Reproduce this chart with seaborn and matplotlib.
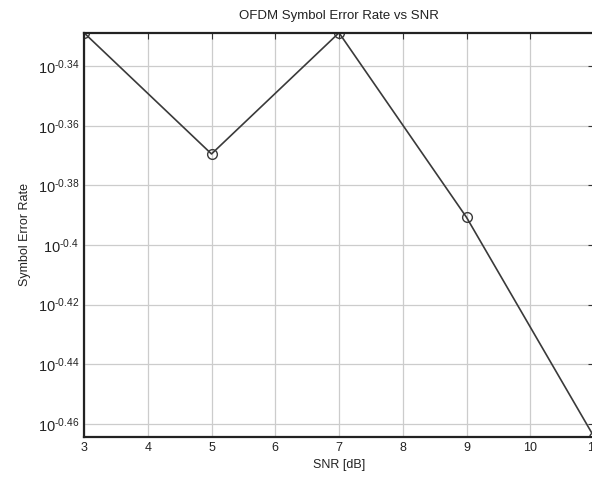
import matplotlib
matplotlib.use("Agg")
import matplotlib.pyplot as plt
import seaborn as sns
import numpy as np
import pandas as pd

# data
snr_db = [3, 5, 7, 9, 11]
ser = [0.4690, 0.4271, 0.4690, 0.4067, 0.3433]
ytick_exp = [-0.46, -0.44, -0.42, -0.40, -0.38, -0.36, -0.34]
ytick_labels = [r'$10^{\text{-0.46}}$', r'$10^{\text{-0.44}}$', r'$10^{\text{-0.42}}$',
                r'$10^{\text{-0.4}}$', r'$10^{\text{-0.38}}$', r'$10^{\text{-0.36}}$',
                r'$10^{\text{-0.34}}$']
xticks = [3, 4, 5, 6, 7, 8, 9, 10, 11]

sns.set_style("whitegrid")
plt.rcParams['font.family'] = ['Liberation Sans', 'DejaVu Sans']
plt.rcParams['mathtext.fontset'] = 'custom'
plt.rcParams['mathtext.rm'] = 'Liberation Sans'
plt.rcParams['mathtext.it'] = 'Liberation Sans'

df = pd.DataFrame({'snr': snr_db, 'ser': ser})

fig = plt.figure(figsize=(5.92, 4.79), dpi=100)
ax = fig.add_axes([0.1419, 0.0877, 0.8615, 0.8434])

sns.lineplot(data=df, x='snr', y='ser', ax=ax, color='#3a3a3a', linewidth=1.2,
             marker='o', markersize=7, markerfacecolor='none',
             markeredgecolor='#3a3a3a', markeredgewidth=1.0)

ax.set_yscale('log')
ax.set_ylim(10 ** -0.4644, 10 ** -0.3289)
ax.set_xlim(3, 11)
ax.set_yticks([10 ** e for e in ytick_exp])
ax.set_yticklabels(ytick_labels)
ax.yaxis.set_minor_locator(matplotlib.ticker.NullLocator())
ax.set_xticks(xticks)

ax.grid(True, color='#cccccc', linewidth=0.9)
for s in ax.spines.values():
    s.set_color('#222222')
    s.set_linewidth(1.6)
ax.tick_params(direction='in', length=4, width=0.8, color='#333333',
               top=True, right=True, labelsize=9, labelcolor='#222222')
ax.tick_params(axis='y', labelsize=10.5)

ax.set_title('OFDM Symbol Error Rate vs SNR', fontsize=9.5, color='#222222', pad=10)
ax.set_xlabel('SNR [dB]', fontsize=9, color='#222222', labelpad=4)
ax.set_ylabel('Symbol Error Rate', fontsize=9, color='#222222', labelpad=5)

fig.savefig('out.png', dpi=100)
